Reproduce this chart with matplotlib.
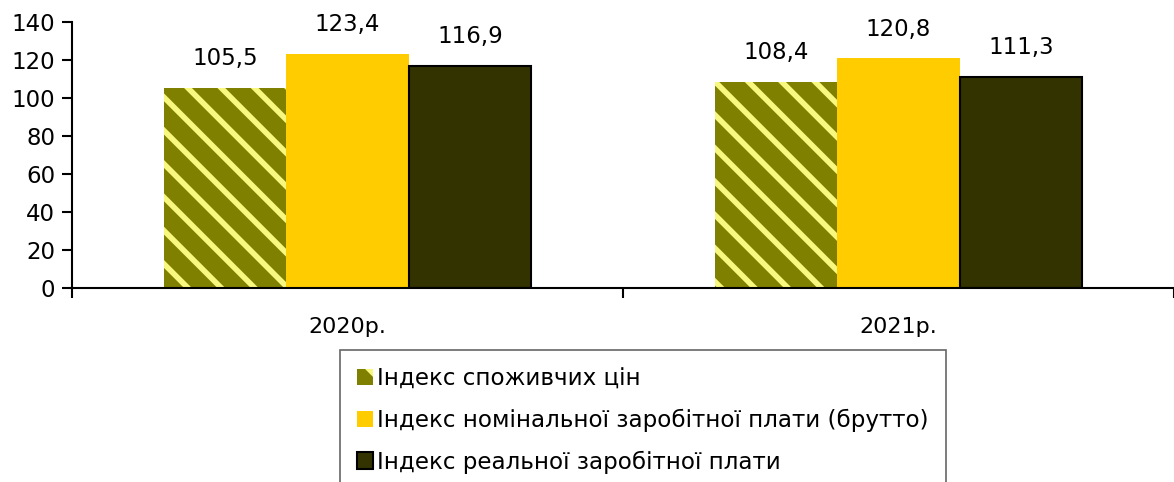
import matplotlib
matplotlib.use("Agg")
import matplotlib.pyplot as plt
import numpy as np

# data
years = ["2020р.", "2021р."]
cpi = [105.5, 108.4]
nominal = [123.4, 120.8]
real = [116.9, 111.3]
series_names = ["Індекс споживчих цін",
                "Індекс номінальної заробітної плати (брутто)",
                "Індекс реальної заробітної плати"]

plt.rcParams['font.family'] = ['DejaVu Sans']
plt.rcParams['hatch.linewidth'] = 4.0

fig = plt.figure(figsize=(11.74, 4.82), dpi=100)
ax = fig.add_axes([72 / 1174, 1 - 288 / 482, 1 - 72 / 1174, (288 - 22) / 482])

x = np.arange(len(years))
w = 0.222

b1 = ax.bar(x - w, cpi, w, color='#808000', edgecolor='#F8F880', linewidth=0,
            hatch='\\', label=series_names[0])
b2 = ax.bar(x, nominal, w, color='#FFCC00', linewidth=0, label=series_names[1])
b3 = ax.bar(x + w, real, w, color='#333300', edgecolor='black', linewidth=1.5,
            label=series_names[2])

for bars, vals in [(b1, cpi), (b2, nominal), (b3, real)]:
    for rect, v in zip(bars, vals):
        ax.annotate(f"{v:.1f}".replace('.', ','),
                    (rect.get_x() + rect.get_width() / 2, rect.get_height()),
                    xytext=(0, 21), textcoords='offset points',
                    ha='center', va='center', fontsize=16.5)

ax.set_ylim(0, 140)
ax.set_yticks(range(0, 141, 20))
ax.set_xlim(-0.5, -0.5 + 1102 / 556)
ax.set_xticks(x)
ax.set_xticklabels(years)
ax.set_xticks([-0.5, 0.5, 1.5], minor=True)
ax.tick_params(axis='x', which='major', length=0, pad=21, labelsize=16)
ax.tick_params(axis='x', which='minor', length=7, width=1.5, direction='out')
ax.tick_params(axis='y', length=7, width=1.5, direction='out', labelsize=16.5, pad=5)

for s in ['top', 'right']:
    ax.spines[s].set_visible(False)
for s in ['left', 'bottom']:
    ax.spines[s].set_linewidth(1.5)

leg = fig.legend(handles=[b1, b2, b3], loc='upper left',
                 bbox_to_anchor=(340 / 1174, 1 - 350 / 482),
                 fontsize=16.6, frameon=True, fancybox=False,
                 handlelength=0.7, handleheight=0.7, handletextpad=0.15,
                 labelspacing=0.8, borderpad=0.75, borderaxespad=0)
leg.get_frame().set_edgecolor('#404040')
leg.get_frame().set_linewidth(1.2)

fig.savefig("out.png", dpi=100)
